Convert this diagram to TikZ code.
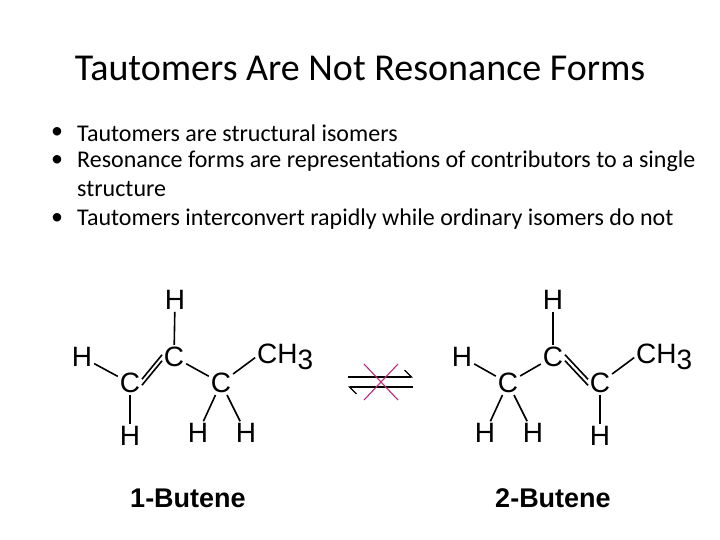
\documentclass[tikz,border=0pt]{standalone}
\usepackage{fontspec}
\usetikzlibrary{arrows.meta}
\setmainfont{Carlito}
\newfontfamily\chemf{Liberation Sans}
\begin{document}
\begin{tikzpicture}[x=1pt,y=-1pt,
  atm/.style={font=\chemf\fontsize{28}{28}\selectfont,inner sep=1pt},
  bd/.style={line width=1.6pt,shorten <=1pt,shorten >=1pt},
  bl/.style={anchor=west,font=\fontsize{24}{28}\selectfont,inner sep=0pt}]
\useasboundingbox (0,0) rectangle (720,540);
\node (title) at (360,68) {\fontsize{38}{42}\selectfont Tautomers Are Not Resonance Forms};
\node[bl] (d1) at (51,133) {\textbullet};
\node[bl] (b1) at (77,133) {Tautomers are structural isomers};
\node[bl] (d2) at (51,161) {\textbullet};
\node[bl] (b2) at (77,161) {Resonance forms are representations of contributors to a single};
\node[bl] (b2b) at (77,189) {structure};
\node[bl] (d3) at (51,219) {\textbullet};
\node[bl] (b3) at (77,219) {Tautomers interconvert rapidly while ordinary isomers do not};
% 1-butene
\node[atm] (a1) at (175,300) {H};
\node[atm] (a2) at (174,357) {C};
\node[atm] (a3) at (82,357) {H};
\node[atm] (a4) at (130,383) {C};
\node[atm] (a5) at (221,383) {C};
\node[atm,anchor=west] (a6) at (256,357) {CH\raisebox{-6pt}{3}};
\node[atm] (a7) at (130,436) {H};
\node[atm] (a8) at (198,433) {H};
\node[atm] (a9) at (246,433) {H};
\draw[bd] (a1)--(a2); \draw[bd] (a3)--(a4); \draw[bd] (a4)--(a7);
\draw[bd] (a2)--(a5); \draw[bd] (a5)--(a8); \draw[bd] (a5)--(a9);
\draw[bd] (a5)--(a6.west);
\draw[bd] ([yshift=-3pt]a4.east)--([yshift=-3pt]a2.west);
\draw[bd] ([yshift=3pt]a4.east)--([yshift=3pt]a2.west);
% 2-butene
\node[atm] (c1) at (553,300) {H};
\node[atm] (c2) at (553,357) {C};
\node[atm] (c3) at (462,357) {H};
\node[atm] (c4) at (508,383) {C};
\node[atm] (c5) at (600,383) {C};
\node[atm,anchor=west] (c6) at (635,357) {CH\raisebox{-6pt}{3}};
\node[atm] (c7) at (485,433) {H};
\node[atm] (c8) at (533,433) {H};
\node[atm] (c9) at (600,436) {H};
\draw[bd] (c1)--(c2); \draw[bd] (c3)--(c4); \draw[bd] (c4)--(c7); \draw[bd] (c4)--(c8);
\draw[bd] (c4)--(c2); \draw[bd] (c5)--(c9); \draw[bd] (c5)--(c6.west);
\draw[bd] ([yshift=-3pt]c2.east)--([yshift=-3pt]c5.west);
\draw[bd] ([yshift=3pt]c2.east)--([yshift=3pt]c5.west);
% arrows
\coordinate (p1) at (348,377); \coordinate (p2) at (413,377);
\coordinate (q1) at (348,387); \coordinate (q2) at (413,387);
\draw[line width=1.2pt,-{Straight Barb[left,length=7pt]}] (p1)--(p2);
\draw[line width=1.2pt,-{Straight Barb[left,length=7pt]}] (q2)--(q1);
\coordinate (x1) at (364,364); \coordinate (x2) at (398,400);
\coordinate (x3) at (398,364); \coordinate (x4) at (364,400);
\draw[line width=1.1pt,color={rgb,255:red,190;green,40;blue,120}] (x1)--(x2) (x3)--(x4);
\node (l1) at (188,498) {\chemf\bfseries\fontsize{27}{30}\selectfont 1-Butene};
\node (l2) at (553,498) {\chemf\bfseries\fontsize{27}{30}\selectfont 2-Butene};
\end{tikzpicture}
\end{document}
